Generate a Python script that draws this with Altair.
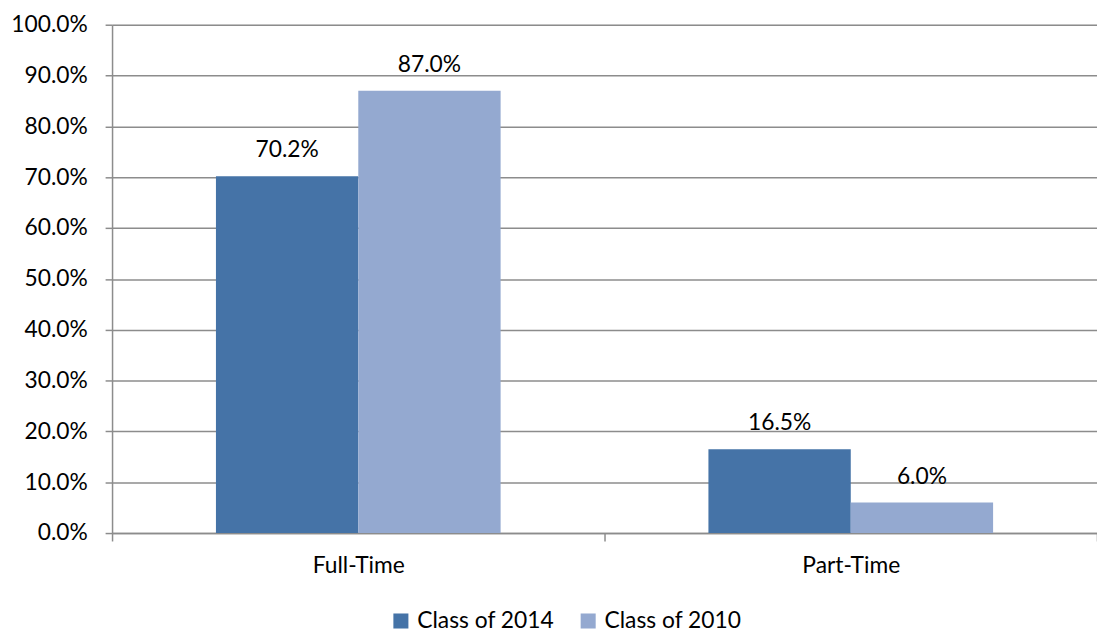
import altair as alt
import pandas as pd

categories = ["Full-Time", "Part-Time"]
series = ["Class of 2014", "Class of 2010"]
values_2014 = [0.702, 0.165]
values_2010 = [0.870, 0.060]

rows = []
for i, c in enumerate(categories):
    rows.append({"cat": c, "series": series[0], "value": values_2014[i]})
    rows.append({"cat": c, "series": series[1], "value": values_2010[i]})
df = pd.DataFrame(rows)

FONT = "Lato"
FS = 23
GRID = "#8c8c8c"

x_enc = alt.X("cat:N", sort=categories, title=None,
              scale=alt.Scale(paddingInner=0, paddingOuter=0),
              axis=alt.Axis(labelAngle=0, labelFontSize=FS, labelFont=FONT, labelColor="#000",
                            domainColor=GRID, domainWidth=1.5, tickColor=GRID, tickWidth=1.5,
                            tickSize=8, tickBand="extent", labelPadding=14, grid=False))
xoff = alt.XOffset("series:N", sort=series,
                   scale=alt.Scale(paddingInner=0, paddingOuter=0.73))

base = alt.Chart(df).encode(x=x_enc, xOffset=xoff)

bars = base.mark_bar().encode(
    y=alt.Y("value:Q", title=None,
            scale=alt.Scale(domain=[0, 1]),
            axis=alt.Axis(values=[i / 10 for i in range(11)], format=".1%",
                          labelFontSize=FS, labelFont=FONT, labelColor="#000",
                          grid=True, gridColor=GRID, gridWidth=1.5,
                          domainColor=GRID, domainWidth=1.5, tickColor=GRID, tickWidth=1.5,
                          tickSize=7, labelPadding=18)),
    color=alt.Color("series:N", sort=series,
                    scale=alt.Scale(domain=series, range=["#4573A7", "#94A9D0"]),
                    legend=alt.Legend(title=None, orient="none", direction="horizontal",
                                      legendX=280, legendY=590, symbolType="square",
                                      symbolSize=230, symbolStrokeWidth=0, symbolOpacity=1,
                                      labelFontSize=FS, labelFont=FONT, labelColor="#000",
                                      columnPadding=22, labelOffset=5)),
)

labels = base.mark_text(dy=-14, baseline="bottom", fontSize=FS, font=FONT, color="#000").encode(
    y="value:Q",
    text=alt.Text("value:Q", format=".1%"),
)

chart = alt.layer(bars, labels).properties(
    width=994, height=513,
    padding={"left": 105, "top": 14, "right": 0, "bottom": 100},
    autosize=alt.AutoSizeParams(type="none"),
).configure_view(stroke=None).configure(background="white")

chart.save("out.html", embed_options={"renderer": "svg", "actions": False})
